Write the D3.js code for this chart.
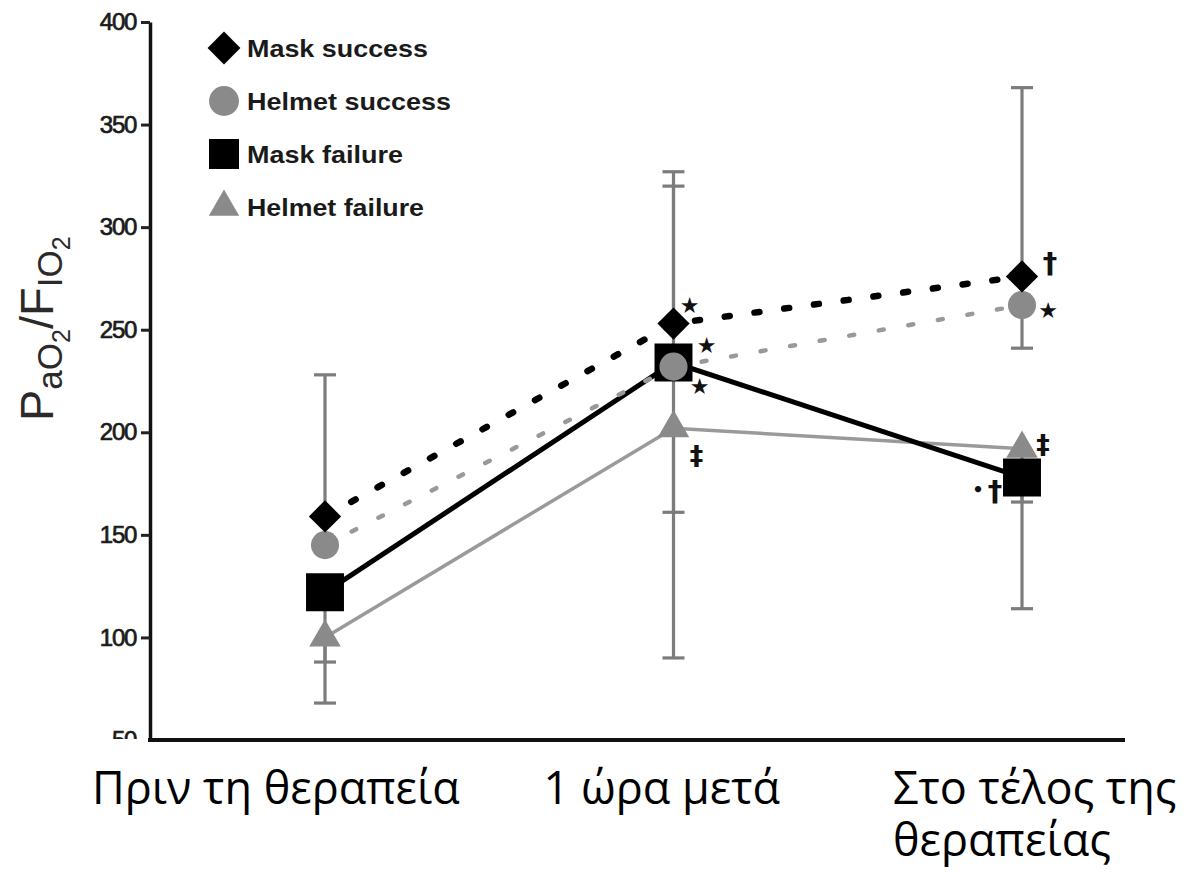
<!DOCTYPE html>
<html>
<head>
<meta charset="utf-8">
<script src="https://cdn.jsdelivr.net/npm/d3@7"></script>
<style>
  body { margin: 0; background: #fff; }
  svg { display: block; }
</style>
</head>
<body>
<svg width="1193" height="872"></svg>
<script>
// values
const categories = ["Πριν τη θεραπεία", "1 ώρα μετά", "Στο τέλος της θεραπείας"];
const maskSuccess = [159, 253, 276];
const helmetSuccess = [145, 232, 262];
const maskFailure = [122, 234, 178];
const helmetFailure = [100, 202, 192];

// end of each SD whisker (null = not drawn)
const maskSuccessErr = [228, 327, 368];
const helmetSuccessErr = [null, 320, 241];
const maskFailureErr = [68, 90, 114];
const helmetFailureErr = [88, 161, 166];

const yTicks = [50, 100, 150, 200, 250, 300, 350, 400];
const legendLabels = ["Mask success", "Helmet success", "Mask failure", "Helmet failure"];

var svg = d3.select("svg");

var x = d3.scalePoint().domain(categories).range([325, 1022]);
var y = d3.scaleLinear().domain([50, 400]).range([740, 22]);

var grey = "#8a8a8a", errGrey = "#7c7c7c";

var series = [
  {name: legendLabels[3], values: helmetFailure, err: helmetFailureErr, sym: "triangle", fill: grey,
   stroke: "#9a9a9a", width: 3.5, dash: null},
  {name: legendLabels[2], values: maskFailure, err: maskFailureErr, sym: "square", fill: "#000",
   stroke: "#000", width: 5, dash: null},
  {name: legendLabels[1], values: helmetSuccess, err: helmetSuccessErr, sym: "circle", fill: grey,
   stroke: "#999", width: 4.5, dash: "5,25"},
  {name: legendLabels[0], values: maskSuccess, err: maskSuccessErr, sym: "diamond", fill: "#000",
   stroke: "#000", width: 6.5, dash: "5,25"}
];

function symbolPath(sym, big) {
  if (sym == "triangle") return d3.symbol(d3.symbolTriangle, big ? 430 : 400)();
  if (sym == "square") return d3.symbol(d3.symbolSquare, big ? 1440 : 900)();
  if (sym == "circle") return d3.symbol(d3.symbolCircle, big ? 620 : 700)();
  return d3.symbol(d3.symbolSquare, big ? 520 : 540)();
}

// axes
var yAxis = d3.axisLeft(y).tickValues(yTicks).tickSize(9).tickSizeOuter(0).tickPadding(5);
var gy = svg.append("g").attr("transform", "translate(150,0)").call(yAxis);
gy.select(".domain").attr("stroke-width", 3.5).attr("stroke", "#111");
gy.selectAll(".tick line").attr("stroke-width", 3).attr("stroke", "#222");
gy.selectAll(".tick text")
  .attr("font-family", "Liberation Sans, Arial, sans-serif")
  .attr("font-size", 24)
  .attr("letter-spacing", -1.3)
  .attr("fill", "#1a1a1a")
  .attr("stroke", "#1a1a1a")
  .attr("stroke-width", 0.7);

// the "50" label is half hidden under the category text area
svg.append("rect").attr("x", 60).attr("y", y(50) - 1).attr("width", 88).attr("height", 30).attr("fill", "#fff");

svg.append("line")
  .attr("x1", 148).attr("x2", 1125)
  .attr("y1", y(50)).attr("y2", y(50))
  .attr("stroke", "#111").attr("stroke-width", 4);

// y title P aO2 / F IO2
var title = svg.append("text")
  .attr("transform", "translate(53," + 421 + ") rotate(-90)")
  .attr("font-family", "Liberation Sans, Arial, sans-serif")
  .attr("fill", "#2a2a2a")
  .attr("font-size", 47);
title.append("tspan").text("P");
title.append("tspan").attr("font-size", 35).attr("dy", 9).text("aO");
title.append("tspan").attr("font-size", 25).attr("dy", 8).text("2");
title.append("tspan").attr("dy", -17).text("/F");
title.append("tspan").attr("font-size", 35).attr("dy", 9).text("IO");
title.append("tspan").attr("font-size", 25).attr("dy", 8).text("2");

// error bars
var bars = svg.append("g");
series.forEach(function(s) {
  s.err.forEach(function(e, i) {
    if (e == null) return;
    var cx = x(categories[i]);
    bars.append("line")
      .attr("x1", cx).attr("x2", cx)
      .attr("y1", y(s.values[i])).attr("y2", y(e))
      .attr("stroke", errGrey).attr("stroke-width", 3.2);
    bars.append("line")
      .attr("x1", cx - 11).attr("x2", cx + 11)
      .attr("y1", y(e)).attr("y2", y(e))
      .attr("stroke", errGrey).attr("stroke-width", 3.2);
  });
});

// lines
var line = d3.line()
  .x(function(d, i) { return x(categories[i]); })
  .y(function(d) { return y(d); });

series.forEach(function(s) {
  svg.append("path")
    .attr("d", line(s.values))
    .attr("fill", "none")
    .attr("stroke", s.stroke)
    .attr("stroke-width", s.width)
    .attr("stroke-linecap", s.dash ? "round" : "butt")
    .attr("stroke-dasharray", s.dash);
});

// markers
series.forEach(function(s) {
  svg.append("g").selectAll("path")
    .data(s.values)
    .enter().append("path")
      .attr("d", symbolPath(s.sym, true))
      .attr("transform", function(d, i) {
        return "translate(" + x(categories[i]) + "," + y(d) + ")" + (s.sym == "diamond" ? " rotate(45)" : "");
      })
      .attr("fill", s.fill);
});

// significance marks
const notes = [
  {v: maskSuccess[1], i: 1, t: "★", dx: 16, dy: -18, size: 22},
  {v: maskFailure[1], i: 1, t: "★", dx: 33, dy: -17, size: 22},
  {v: helmetSuccess[1], i: 1, t: "★", dx: 26, dy: 20, size: 22},
  {v: helmetFailure[1], i: 1, t: "‡", dx: 23, dy: 27, size: 27},
  {v: maskSuccess[2], i: 2, t: "†", dx: 28, dy: -13, size: 29},
  {v: helmetSuccess[2], i: 2, t: "★", dx: 26, dy: 5, size: 22},
  {v: helmetFailure[2], i: 2, t: "‡", dx: 21, dy: -4, size: 27},
  {v: maskFailure[2], i: 2, t: "•", dx: -44, dy: 12, size: 18},
  {v: maskFailure[2], i: 2, t: "†", dx: -27, dy: 14, size: 29}
];
svg.append("g").selectAll("text")
  .data(notes)
  .enter().append("text")
    .attr("x", function(d) { return x(categories[d.i]) + d.dx; })
    .attr("y", function(d) { return y(d.v) + d.dy; })
    .attr("text-anchor", "middle")
    .attr("dominant-baseline", "central")
    .attr("font-family", "DejaVu Sans, sans-serif")
    .attr("font-weight", "bold")
    .attr("font-size", function(d) { return d.size; })
    .attr("fill", "#111")
    .text(function(d) { return d.t; });

// legend
var legendSym = ["diamond", "circle", "square", "triangle"];
var legendFill = ["#000", grey, "#000", grey];
var legendWidth = [181, 204, 156, 177];
var leg = svg.append("g").selectAll("g")
  .data(legendLabels)
  .enter().append("g")
    .attr("transform", function(d, i) { return "translate(224," + (48 + i * 53) + ")"; });
leg.append("path")
  .attr("d", function(d, i) { return symbolPath(legendSym[i], false); })
  .attr("transform", function(d, i) { return legendSym[i] == "diamond" ? "rotate(45)" : null; })
  .attr("fill", function(d, i) { return legendFill[i]; });
leg.append("text")
  .attr("x", 23)
  .attr("y", 9)
  .attr("font-family", "Liberation Sans, Arial, sans-serif")
  .attr("font-weight", "bold")
  .attr("font-size", 24)
  .attr("textLength", function(d, i) { return legendWidth[i]; })
  .attr("lengthAdjust", "spacingAndGlyphs")
  .attr("fill", "#1a1a1a")
  .text(function(d) { return d; });

// category labels (third one wraps onto two lines)
const labelLines = [["Πριν τη θεραπεία"], ["1 ώρα μετά"], ["Στο τέλος της", "θεραπείας"]];
const labelDx = [-233, -130, -129];
var cl = svg.append("g")
  .attr("font-family", "Open Sans, Noto Sans, sans-serif")
  .attr("font-size", 45)
  .attr("fill", "#000");
labelLines.forEach(function(lines, i) {
  var lx = x(categories[i]) + labelDx[i];
  var t = cl.append("text").attr("x", lx).attr("y", 804);
  lines.forEach(function(s, j) {
    t.append("tspan")
      .attr("x", lx)
      .attr("dy", j == 0 ? 0 : 52)
      .text(s);
  });
});
</script>
</body>
</html>
